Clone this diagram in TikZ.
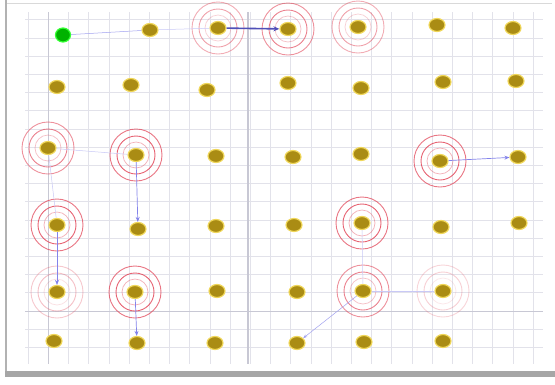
\documentclass[tikz,border=0pt]{standalone}
\usetikzlibrary{shapes.geometric,arrows.meta}
\definecolor{gridc}{RGB}{226,226,234}
\definecolor{gridd}{RGB}{200,200,212}
\definecolor{nodefill}{RGB}{170,140,20}
\definecolor{halo}{RGB}{240,215,90}
\definecolor{ringc}{RGB}{225,60,80}
\definecolor{linkc}{RGB}{100,100,230}
\tikzset{
  dot/.style={ellipse, minimum width=16pt, minimum height=13pt, inner sep=0pt,
    fill=nodefill, draw=halo, line width=1.2pt},
  startdot/.style={dot, fill=green!70!black, draw=green!80, minimum width=15pt, minimum height=14pt},
  link/.style={draw=linkc!60, line width=0.5pt},
  faintlink/.style={draw=linkc!35, line width=0.5pt},
  arrowlink/.style={draw=linkc!80, line width=0.7pt, -{Stealth[length=5pt,width=4pt]}},
  boldarrow/.style={draw=linkc!80!black, line width=1.6pt, -{Stealth[length=6pt,width=5pt]}},
}
\newcommand{\myrings}[2]{%
  \draw[ringc, opacity=#2*0.4, line width=0.7pt] (#1) circle (13pt);
  \draw[ringc, opacity=#2*0.8, line width=0.9pt] (#1) circle (19pt);
  \draw[ringc, opacity=#2*0.7, line width=0.9pt] (#1) circle (26pt);
}
\begin{document}
\begin{tikzpicture}[x=1pt,y=-1pt]
\useasboundingbox (0,0) rectangle (555,384);
\fill[white] (0,0) rectangle (555,384);
% frame
\draw[gray!30, line width=0.8pt] (6,3) -- (552,3);
\draw[gray!60, line width=1.5pt] (6,0) -- (6,373);
\fill[gray!70] (5,371) rectangle (555,377);
% grid
\foreach \k in {0,...,25} \draw[gridc, line width=0.6pt] (28+20.2*\k,12) -- (28+20.2*\k,364);
\foreach \k in {0,...,18} \draw[gridc, line width=0.6pt] (25,19.6+18.2*\k) -- (543,19.6+18.2*\k);
\draw[gridd, line width=0.9pt] (48,12) -- (48,364);
\draw[gridd, line width=1.2pt] (248,12) -- (248,364);
\draw[gridd, line width=0.9pt] (25,311) -- (543,311);
% nodes row 1
\node[startdot] (s) at (63,35) {};
\node[dot] (a2) at (150,30) {};
\node[dot] (a3) at (218,28) {};
\node[dot] (a4) at (288,29) {};
\node[dot] (a5) at (358,27) {};
\node[dot] (a6) at (437,25) {};
\node[dot] (a7) at (513,28) {};
% row 2
\node[dot] (b1) at (57,87) {};
\node[dot] (b2) at (131,85) {};
\node[dot] (b3) at (207,90) {};
\node[dot] (b4) at (288,83) {};
\node[dot] (b5) at (361,88) {};
\node[dot] (b6) at (443,82) {};
\node[dot] (b7) at (516,81) {};
% row 3
\node[dot] (c1) at (48,148) {};
\node[dot] (c2) at (136,155) {};
\node[dot] (c3) at (216,156) {};
\node[dot] (c4) at (293,157) {};
\node[dot] (c5) at (361,154) {};
\node[dot] (c6) at (440,161) {};
\node[dot] (c7) at (518,157) {};
% row 4
\node[dot] (d1) at (57,225) {};
\node[dot] (d2) at (138,229) {};
\node[dot] (d3) at (216,226) {};
\node[dot] (d4) at (294,225) {};
\node[dot] (d5) at (362,223) {};
\node[dot] (d6) at (441,227) {};
\node[dot] (d7) at (519,223) {};
% row 5
\node[dot] (e1) at (57,292) {};
\node[dot] (e2) at (135,292) {};
\node[dot] (e3) at (217,291) {};
\node[dot] (e4) at (297,292) {};
\node[dot] (e5) at (363,291) {};
\node[dot] (e6) at (443,291) {};
% row 6
\node[dot] (f1) at (54,341) {};
\node[dot] (f2) at (137,343) {};
\node[dot] (f3) at (215,343) {};
\node[dot] (f4) at (297,343) {};
\node[dot] (f5) at (364,342) {};
\node[dot] (f6) at (443,341) {};
% rings
\myrings{a3}{0.6}
\myrings{a4}{0.8}
\myrings{a5}{0.6}
\myrings{c1}{0.8}
\myrings{c2}{1}
\myrings{c6}{1}
\myrings{d1}{1}
\myrings{d5}{1}
\myrings{e1}{0.4}
\myrings{e2}{1}
\myrings{e5}{0.8}
\myrings{e6}{0.3}
% connectors
\draw[link] (s) -- (a2);
\draw[faintlink] (a2) -- (a3);
\draw[boldarrow] (a3) -- (a4);
\draw[faintlink] (c1) -- (c2);
\draw[faintlink] (c1) -- (d1);
\draw[arrowlink] (c2) -- (d2);
\draw[arrowlink] (d1) -- (e1);
\draw[arrowlink] (e2) -- (f2);
\draw[faintlink] (d5) -- (e5);
\draw[link, -{Stealth[length=4pt,width=3pt]}] (e5) -- (f4);
\draw[faintlink] (e5) -- (e6);
\draw[arrowlink] (c6) -- (c7);
\end{tikzpicture}
\end{document}
